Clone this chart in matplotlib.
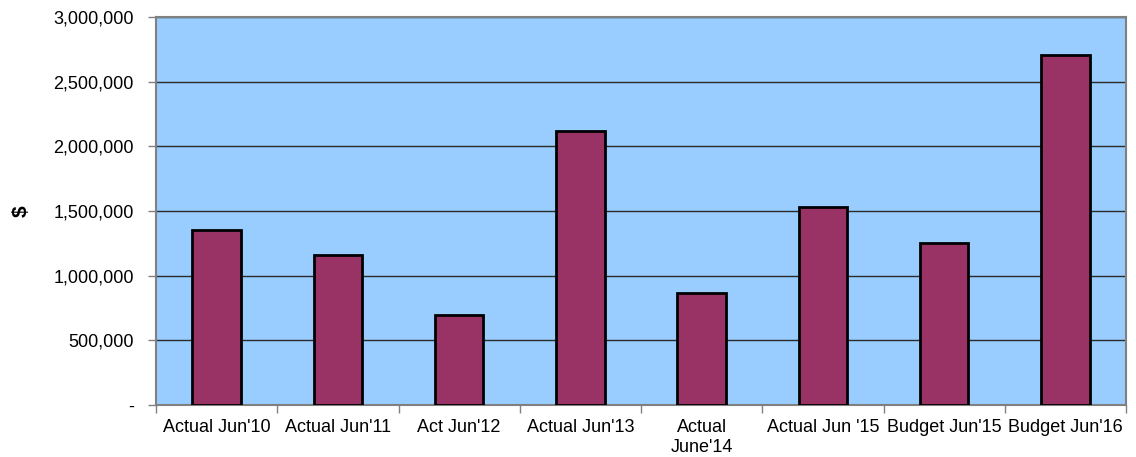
import numpy as np
import matplotlib
matplotlib.use("Agg")
import matplotlib.pyplot as plt
from matplotlib.ticker import FuncFormatter, FixedLocator

plt.rcParams['font.family'] = ['Liberation Sans', 'DejaVu Sans']

# yearly totals in dollars
categories = ["Actual Jun'10", "Actual Jun'11", "Act Jun'12", "Actual Jun'13",
              "Actual\nJune'14", "Actual Jun '15", "Budget Jun'15", "Budget Jun'16"]
values = [1353000, 1158000, 694000, 2118000, 866000, 1531000, 1250000, 2706000]

fig = plt.figure(figsize=(11.36, 4.57), dpi=100)
ax = fig.add_axes([156 / 1136, 1 - 405 / 457, 970 / 1136, 388 / 457])
ax.set_facecolor('#99ccff')

x = np.arange(len(categories))
ax.bar(x, values, width=0.4, color='#993366', edgecolor='black', linewidth=2, zorder=3)

ax.set_xlim(-0.5, len(categories) - 0.5)
ax.set_ylim(0, 3000000)
ax.set_yticks(np.arange(0, 3000001, 500000))
ax.yaxis.set_major_formatter(FuncFormatter(lambda v, p: '-' if v == 0 else f'{int(v):,}'))
ax.grid(axis='y', color='#2b2b2b', linewidth=1, zorder=1)

# category labels centred, tick marks on the boundaries
ax.set_xticks(x)
ax.set_xticklabels(categories, fontsize=13, linespacing=1.25)
ax.tick_params(axis='x', which='major', length=0, pad=10)
ax.xaxis.set_minor_locator(FixedLocator(np.arange(-0.5, len(categories), 1)))
ax.tick_params(axis='x', which='minor', length=6, width=1, color='#808080', direction='out')
ax.tick_params(axis='y', length=6, width=1, color='#808080', labelsize=13, pad=10)

for s in ax.spines.values():
    s.set_color('#808080')
    s.set_linewidth(1.5)

fig.text(21 / 1136, 1 - 211 / 457, '$', rotation=90, fontsize=15, fontweight='bold',
         ha='center', va='center')

fig.savefig('out.png', dpi=100, facecolor='white')
